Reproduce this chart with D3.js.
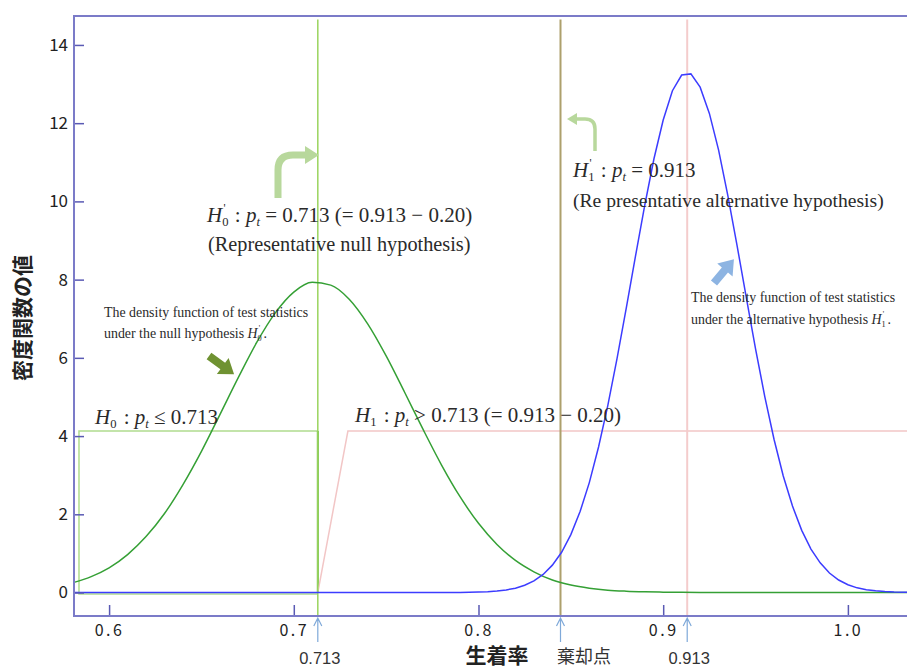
<!DOCTYPE html>
<html>
<head>
<meta charset="utf-8">
<script src="https://cdn.jsdelivr.net/npm/d3@7"></script>
<style>
  body { margin: 0; background: #fff; }
  svg { display: block; }
</style>
</head>
<body>
<svg id="canvas" width="907" height="668"></svg>
<script>
// axis ticks
const xTicks = [0.6, 0.7, 0.8, 0.9, 1.0];
const yTicks = [0, 2, 4, 6, 8, 10, 12, 14];

// density under null hypothesis H0'
const nullX = [0.581, 0.59, 0.60, 0.61, 0.62, 0.63, 0.64, 0.65, 0.66, 0.67, 0.68, 0.69, 0.70, 0.71, 0.72,
  0.73, 0.74, 0.75, 0.76, 0.77, 0.78, 0.79, 0.80, 0.81, 0.82, 0.83, 0.84, 0.85, 0.86, 0.87, 0.88,
  0.89, 0.90, 0.91, 0.92, 0.94, 1.032];
const nullY = [0.26, 0.40, 0.63, 0.97, 1.43, 2.02, 2.76, 3.61, 4.55, 5.50, 6.40, 7.15, 7.68, 7.93, 7.86,
  7.50, 6.87, 6.05, 5.12, 4.17, 3.26, 2.45, 1.77, 1.23, 0.82, 0.53, 0.32, 0.19, 0.11, 0.06, 0.035,
  0.02, 0.01, 0.005, 0.002, 0, 0];

// density under alternative hypothesis H1'
const altX = [0.581, 0.78, 0.785, 0.79, 0.795, 0.80, 0.805, 0.81, 0.815, 0.82, 0.825, 0.83, 0.835, 0.84, 0.845,
  0.85, 0.855, 0.86, 0.865, 0.87, 0.875, 0.88, 0.885, 0.89, 0.895, 0.90, 0.905, 0.91, 0.915, 0.92,
  0.925, 0.93, 0.935, 0.94, 0.945, 0.95, 0.955, 0.96, 0.965, 0.97, 0.975, 0.98, 0.985, 0.99, 0.995,
  1.00, 1.005, 1.01, 1.015, 1.02, 1.025, 1.032];
const altY = [0, 0.001, 0.002, 0.003, 0.006, 0.012, 0.021, 0.038, 0.066, 0.112, 0.185, 0.296, 0.462, 0.70, 1.03,
  1.48, 2.07, 2.81, 3.72, 4.78, 5.98, 7.27, 8.60, 9.90, 11.09, 12.08, 12.83, 13.23, 13.26, 12.92,
  12.25, 11.31, 10.15, 8.87, 7.54, 6.23, 5.01, 3.92, 2.98, 2.21, 1.59, 1.11, 0.76, 0.50, 0.32,
  0.20, 0.12, 0.074, 0.043, 0.024, 0.013, 0.005];

// hypothesis regions
const h0Region = [[0.5837, -0.04], [0.5837, 4.13], [0.713, 4.13], [0.713, -0.04]];
const h1Region = [[0.713, 0], [0.7293, 4.13], [1.032, 4.13]];

// reference points on x
const nullValue = 0.713;
const rejectPoint = 0.8444;
const altValue = 0.913;

let svg = d3.select("#canvas");
const mLeft = 74, mRight = 907, mTop = 16, mBottom = 616;

let x = d3.scaleLinear().domain([0.581, 1.032]).range([mLeft, mRight]);
let y = d3.scaleLinear().domain([-0.6, 14.74]).range([mBottom, mTop]);

let line = d3.line().x(d => x(d[0])).y(d => y(d[1]));

// H0 box
svg.append("path")
  .attr("d", line([h0Region[3], h0Region[0], h0Region[1], h0Region[2]]))
  .attr("fill", "none").attr("stroke", "#b0dc8e").attr("stroke-width", 1.5);
svg.append("line")
  .attr("x1", x(h0Region[2][0])).attr("x2", x(h0Region[3][0]))
  .attr("y1", y(h0Region[2][1])).attr("y2", y(0))
  .attr("stroke", "#62b83a").attr("stroke-width", 2);

// H1 region
svg.append("path").attr("d", line(h1Region))
  .attr("fill", "none").attr("stroke", "#f2c6c6").attr("stroke-width", 1.5);

// vertical reference lines
let vline = (v, col, w) => {
  svg.append("line")
    .attr("x1", x(v)).attr("x2", x(v))
    .attr("y1", y(14.65)).attr("y2", mBottom)
    .attr("stroke", col).attr("stroke-width", w);
};
vline(nullValue, "#9ad45e", 1.5);
vline(rejectPoint, "#ada06c", 2);
vline(altValue, "#f4cccc", 2);

// density curves
svg.append("path")
  .attr("d", d3.line().x((d, i) => x(d)).y((d, i) => y(nullY[i])).curve(d3.curveMonotoneX)(nullX))
  .attr("fill", "none").attr("stroke", "#35a035").attr("stroke-width", 1.5);
svg.append("path")
  .attr("d", d3.line().x((d, i) => x(d)).y((d, i) => y(altY[i]))(altX))
  .attr("fill", "none").attr("stroke", "#3c3cff").attr("stroke-width", 1.5);

// axes
let yAxis = d3.axisLeft(y).tickValues(yTicks).tickSize(-10).tickPadding(6);
let gy = svg.append("g").attr("transform", `translate(${mLeft},0)`).call(yAxis);
gy.select(".domain").remove();
gy.selectAll("line").attr("stroke", "#5a5ab4").attr("stroke-width", 1.5);
gy.selectAll("text").style("font-family", "Noto Sans CJK JP").style("font-size", "17px").attr("fill", "#222");

let xAxis = d3.axisBottom(x).tickValues(xTicks).tickSize(-11).tickPadding(9).tickFormat(d3.format(".1f"));
let gx = svg.append("g").attr("transform", `translate(0,${mBottom})`).call(xAxis);
gx.select(".domain").remove();
gx.selectAll("line").attr("stroke", "#5a5ab4").attr("stroke-width", 1.5);
gx.selectAll("text").style("font-family", "Noto Sans CJK JP").style("font-size", "16px")
  .style("letter-spacing", "2.5px").attr("fill", "#222");

// frame
svg.append("path")
  .attr("d", `M${mRight},${mTop}H${mLeft}V${mBottom}H${mRight}`)
  .attr("fill", "none").attr("stroke", "#7b7bc8").attr("stroke-width", 2);

// axis titles
svg.append("text")
  .attr("transform", "translate(30,318) rotate(-90)")
  .attr("text-anchor", "middle")
  .style("font-family", "Noto Sans CJK JP").style("font-size", "21px").style("font-weight", "bold")
  .attr("fill", "#222").text("密度関数の値");
svg.append("text").attr("x", 497).attr("y", 663).attr("text-anchor", "middle")
  .style("font-family", "Noto Sans CJK JP").style("font-size", "21px").style("font-weight", "bold")
  .attr("fill", "#222").text("生着率");
svg.append("text").attr("x", 584).attr("y", 663).attr("text-anchor", "middle")
  .style("font-family", "Noto Sans CJK JP").style("font-size", "18px")
  .attr("fill", "#333").text("棄却点");

// small pointers under the axis
[[nullValue, "0.713"], [rejectPoint, ""], [altValue, "0.913"]].forEach(([v, lab]) => {
  let px = x(v);
  svg.append("path")
    .attr("d", `M${px},642V618M${px - 4},626L${px},618L${px + 4},626`)
    .attr("fill", "none").attr("stroke", "#7fa9d9").attr("stroke-width", 1.2);
  if (lab) {
    svg.append("text").attr("x", px + 2).attr("y", 664).attr("text-anchor", "middle")
      .style("font-family", "Liberation Sans").style("font-size", "16.5px")
      .attr("fill", "#333").text(lab);
  }
});

// math labels
let math = (mx, my, size, parts) => {
  let t = svg.append("text").attr("x", mx).attr("y", my)
    .style("font-family", "Liberation Serif, serif").style("font-size", size + "px").attr("fill", "#2a2a2a");
  let cur = 0;
  parts.forEach(p => {
    let off = p.off || 0;
    let s = t.append("tspan").text(p.t).attr("dy", off - cur);
    cur = off;
    if (p.dx) s.attr("dx", p.dx);
    if (p.i) s.style("font-style", "italic");
    if (p.sz) s.style("font-size", (size * p.sz) + "px");
  });
};
let sub = (c) => ({ t: c, off: 4, sz: 0.6 });
let prime = { t: "'", off: -10, sz: 0.55, dx: -5 };
let colon = { t: " : ", dx: 4 };
let pt = [{ t: "p", i: 1 }, { t: "t", i: 1, off: 4, sz: 0.6 }];

math(207, 222, 21, [{ t: "H", i: 1 }, sub("0"), prime, colon, ...pt, { t: " = 0.713 (= 0.913 − 0.20)" }]);
math(208, 251, 20.3, [{ t: "(Representative null hypothesis)" }]);
math(573, 177, 21, [{ t: "H", i: 1 }, sub("1"), prime, colon, ...pt, { t: " = 0.913" }]);
math(573, 207, 19.6, [{ t: "(Re presentative alternative hypothesis)" }]);
math(95, 424, 21, [{ t: "H", i: 1 }, sub("0"), { t: " : ", dx: 2 }, ...pt, { t: " ≤ 0.713" }]);
math(355, 422, 21, [{ t: "H", i: 1 }, sub("1"), { t: " : ", dx: 2 }, ...pt, { t: " > 0.713 (= 0.913 − 0.20)" }]);

math(104, 317, 13.9, [{ t: "The density function of test statistics" }]);
math(104, 338, 13.9, [{ t: "under the null hypothesis " }, { t: "H", i: 1 }, { t: "0", off: 3, sz: 0.6 },
  { t: "'", off: -7, sz: 0.55, dx: -3 }, { t: " .", off: 0 }]);
math(691, 302, 13.9, [{ t: "The density function of test statistics" }]);
math(691, 324, 13.9, [{ t: "under the alternative hypothesis " }, { t: "H", i: 1 }, { t: "1", off: 3, sz: 0.6 },
  { t: "'", off: -7, sz: 0.55, dx: -3 }, { t: " .", off: 0 }]);

// curved pointer arrows
svg.append("path").attr("d", "M278,198V170Q278,155 293,155H307")
  .attr("fill", "none").attr("stroke", "#b8d89c").attr("stroke-width", 7);
svg.append("path").attr("d", "M305,146L319,155L305,164Z").attr("fill", "#b8d89c");
svg.append("path").attr("d", "M595,151V129Q595,119 585,119H575")
  .attr("fill", "none").attr("stroke", "#b8d89c").attr("stroke-width", 3.5);
svg.append("path").attr("d", "M577,113L567,119L577,125Z").attr("fill", "#b8d89c");

// block arrows
let blockArrow = (bx, by, ang, col) => {
  svg.append("path")
    .attr("d", "M0,-4L17,-4L17,-10L31,0L17,10L17,4L0,4Z")
    .attr("transform", `translate(${bx},${by}) rotate(${ang})`)
    .attr("fill", col);
};
blockArrow(209, 356, 36, "#6f9232");
blockArrow(714, 283, -50, "#8db4e2");
</script>
</body>
</html>
